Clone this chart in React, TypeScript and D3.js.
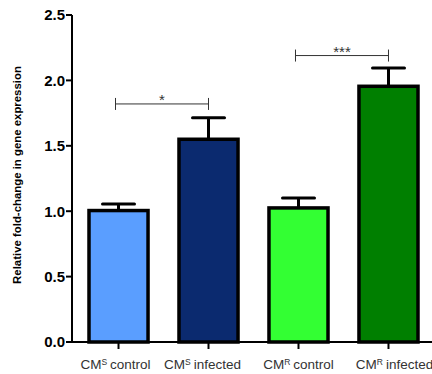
import React from "react";
import * as d3 from "d3";

const categories = ["control", "infected", "control", "infected"];
const prefixSup = ["S", "S", "R", "R"];
const means = [1.005, 1.55, 1.025, 1.955];
const errors = [0.05, 0.165, 0.075, 0.14];
const colors = ["#5A9EFF", "#0B2A6F", "#33FF33", "#007F00"];
const yTicks = [0, 0.5, 1.0, 1.5, 2.0, 2.5];
const sigPairs = [
  { a: 0, b: 1, y: 1.82, label: "*" },
  { a: 2, b: 3, y: 2.19, label: "***" },
];
const labelShift = [-3, -6, 0, 6];

export default function App() {
  const W = 432, H = 374;
  const x0 = 72, y0 = 342, yTop = 15;
  const y = d3.scaleLinear().domain([0, 2.5]).range([y0, yTop]);
  const x = d3.scaleBand<number>().domain([0, 1, 2, 3]).range([73.7, 433.3]).paddingInner(0.344).paddingOuter(0.17);
  const bw = x.bandwidth();
  const cx = (i: number) => (x(i) as number) + bw / 2;
  const font = "Liberation Sans, Arial, sans-serif";
  return (
    <svg width={W} height={H} style={{ position: "absolute", left: 0, top: 0 }}>
      <rect width={W} height={H} fill="#fff" />
      {means.map((m, i) => (
        <g key={i}>
          <line x1={cx(i)} x2={cx(i)} y1={y(m)} y2={y(m + errors[i])} stroke="#000" strokeWidth={3} />
          <line x1={cx(i) - 16} x2={cx(i) + 16} y1={y(m + errors[i])} y2={y(m + errors[i])} stroke="#000" strokeWidth={3} strokeLinecap="round" />
          <rect x={x(i) as number} y={y(m)} width={bw} height={y0 - y(m)} fill={colors[i]} stroke="#000" strokeWidth={3.5} />
        </g>
      ))}
      <line x1={x0} x2={x0} y1={yTop} y2={y0} stroke="#000" strokeWidth={2} />
      <line x1={x0} x2={W} y1={y0} y2={y0} stroke="#000" strokeWidth={2} />
      {yTicks.map((t) => (
        <g key={t}>
          <line x1={x0 - 6} x2={x0} y1={y(t)} y2={y(t)} stroke="#000" strokeWidth={2} />
          <text x={x0 - 7} y={y(t)} dy="0.36em" textAnchor="end" fontFamily={font} fontWeight="bold" fontSize={15}>
            {t.toFixed(1)}
          </text>
        </g>
      ))}
      {means.map((_, i) => (
        <g key={"xt" + i}>
          <line x1={cx(i)} x2={cx(i)} y1={y0} y2={y0 + 7} stroke="#000" strokeWidth={2} />
          <text x={cx(i) + labelShift[i]} y={369} textAnchor="middle" fontFamily={font} fontSize={13.5} fill="#333">
            CM<tspan fontSize={8.5} dy={-4}>{prefixSup[i]}</tspan>
            <tspan dy={4} dx={3}>{categories[i]}</tspan>
          </text>
        </g>
      ))}
      {sigPairs.map((s, k) => {
        const xa = cx(s.a) - 3, xb = cx(s.b);
        const yy = y(s.y);
        return (
          <g key={"s" + k}>
            <line x1={xa} x2={xb} y1={yy} y2={yy} stroke="#333" strokeWidth={1} />
            <line x1={xa} x2={xa} y1={yy - 6} y2={yy + 6} stroke="#333" strokeWidth={1} />
            <line x1={xb} x2={xb} y1={yy - 6} y2={yy + 6} stroke="#333" strokeWidth={1} />
            <text x={(xa + xb) / 2} y={yy + 1} textAnchor="middle" fontFamily={font} fontSize={15} fill="#333">
              {s.label}
            </text>
          </g>
        );
      })}
      <text transform={`translate(21,175) rotate(-90)`} textAnchor="middle" fontFamily={font} fontWeight="bold" fontSize={11.4}>
        Relative fold-change in gene expression
      </text>
    </svg>
  );
}
